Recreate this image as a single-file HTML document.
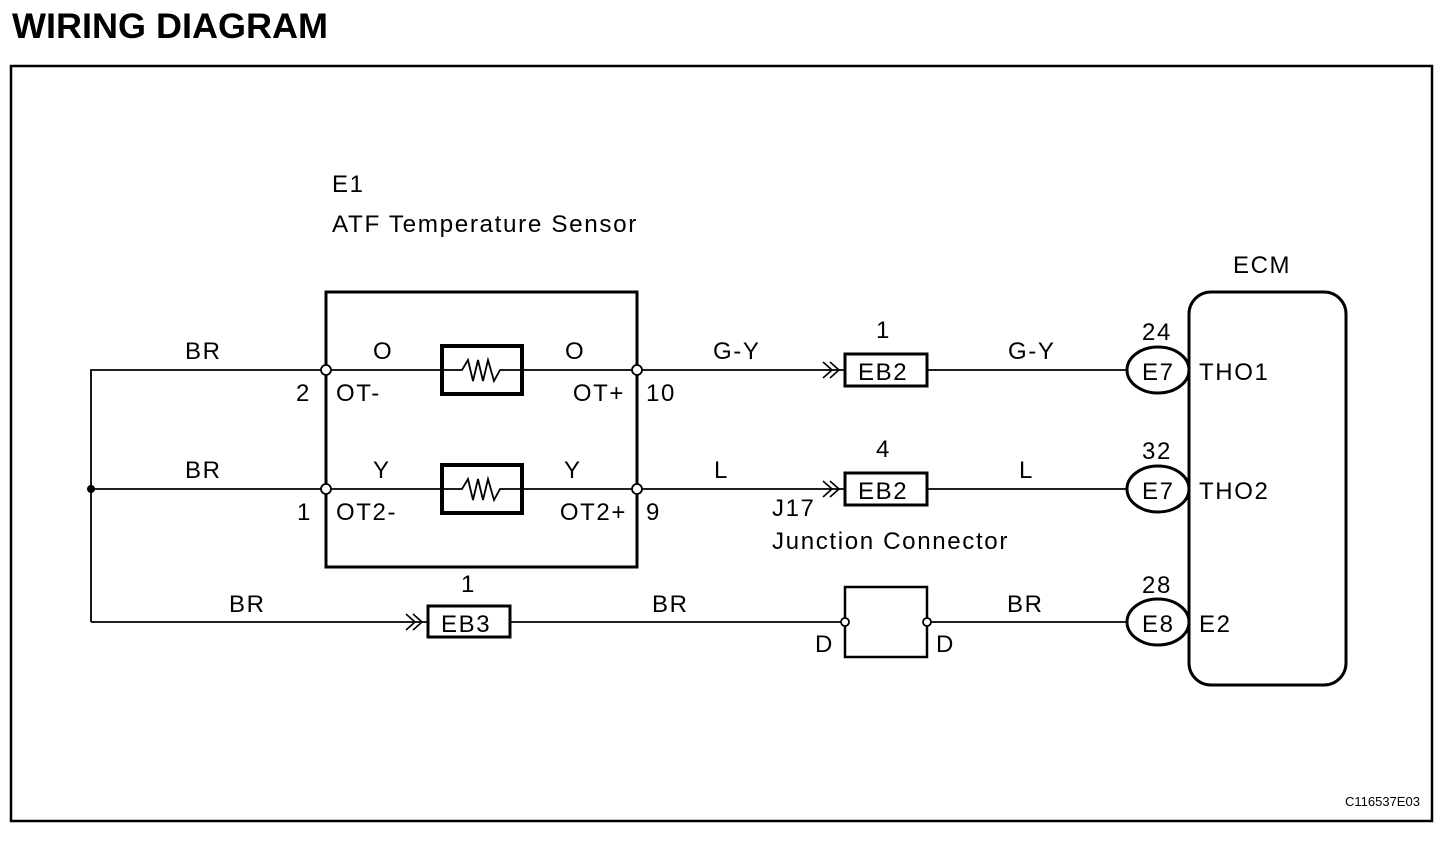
<!DOCTYPE html>
<html><head><meta charset="utf-8"><style>
html,body{margin:0;padding:0;background:#fff;}
svg{display:block;}
text{font-family:"Liberation Sans",Arial,sans-serif;fill:#000;}
.t{letter-spacing:1.6px;}
</style></head><body>
<svg width="1456" height="846" viewBox="0 0 1456 846" xmlns="http://www.w3.org/2000/svg">
<text x="12" y="38" font-size="35" font-weight="bold" textLength="316" lengthAdjust="spacingAndGlyphs">WIRING DIAGRAM</text>
<rect x="11" y="66" width="1421" height="755" fill="none" stroke="#000" stroke-width="2.5"/>
<g font-size="24" class="t">
<text x="332" y="192">E1</text>
<text x="332" y="232" textLength="306" lengthAdjust="spacingAndGlyphs">ATF Temperature Sensor</text>
<text x="1233" y="273">ECM</text>
</g>
<rect x="326" y="292" width="311" height="275" fill="none" stroke="#000" stroke-width="3"/>
<g stroke="#000" stroke-width="1.8" fill="none">
<polyline points="91,622 91,370 326,370"/>
<line x1="91" y1="489" x2="326" y2="489"/>
<line x1="326" y1="370" x2="637" y2="370"/>
<line x1="326" y1="489" x2="637" y2="489"/>
<line x1="637" y1="370" x2="845" y2="370"/>
<line x1="637" y1="489" x2="845" y2="489"/>
<line x1="927" y1="370" x2="1127" y2="370"/>
<line x1="927" y1="489" x2="1127" y2="489"/>
<line x1="91" y1="622" x2="428" y2="622"/>
<line x1="510" y1="622" x2="845" y2="622"/>
<line x1="927" y1="622" x2="1127" y2="622"/>
</g>
<g stroke="#000" stroke-width="1.6" fill="none">
<polyline points="823,362 832,370 823,378"/><polyline points="830,362 839,370 830,378"/>
<polyline points="823,481 832,489 823,497"/><polyline points="830,481 839,489 830,497"/>
<polyline points="406,614 415,622 406,630"/><polyline points="413,614 422,622 413,630"/>
</g>
<circle cx="91" cy="489" r="4" fill="#000"/>
<g stroke="#000" fill="#fff">
<rect x="442" y="346" width="80" height="48" stroke-width="4"/>
<rect x="442" y="465" width="80" height="48" stroke-width="4"/>
</g>
<g stroke="#000" stroke-width="1.8" fill="none">
<polyline points="442,370 462,370 468,360 473,381 478,360 483,381 488,360 494,381 500,370 522,370"/>
<polyline points="442,489 462,489 468,479 473,500 478,479 483,500 488,479 494,500 500,489 522,489"/>
</g>
<g stroke="#000" stroke-width="1.8" fill="#fff">
<circle cx="326" cy="370" r="5"/><circle cx="637" cy="370" r="5"/>
<circle cx="326" cy="489" r="5"/><circle cx="637" cy="489" r="5"/>
</g>
<g stroke="#000" stroke-width="3" fill="#fff">
<rect x="845" y="354" width="82" height="32"/>
<rect x="845" y="473" width="82" height="32"/>
<rect x="428" y="606" width="82" height="31"/>
</g>
<rect x="845" y="587" width="82" height="70" fill="none" stroke="#000" stroke-width="2.5"/>
<g stroke="#000" stroke-width="1.8" fill="#fff">
<circle cx="845" cy="622" r="4"/><circle cx="927" cy="622" r="4"/>
</g>
<rect x="1189" y="292" width="157" height="393" rx="22" fill="none" stroke="#000" stroke-width="3"/>
<g stroke="#000" stroke-width="3" fill="#fff">
<ellipse cx="1158" cy="370" rx="31" ry="23"/>
<ellipse cx="1158" cy="489" rx="31" ry="23"/>
<ellipse cx="1158" cy="622" rx="31" ry="23"/>
</g>
<line x1="1189" y1="330" x2="1189" y2="660" stroke="#000" stroke-width="3"/>
<g font-size="24" class="t">
<text x="185" y="359">BR</text>
<text x="185" y="478">BR</text>
<text x="229" y="612">BR</text>
<text x="373" y="359">O</text>
<text x="565" y="359">O</text>
<text x="373" y="478">Y</text>
<text x="564" y="478">Y</text>
<text x="296" y="401">2</text>
<text x="336" y="401">OT-</text>
<text x="625" y="401" text-anchor="end">OT+</text>
<text x="646" y="401">10</text>
<text x="297" y="520">1</text>
<text x="336" y="520">OT2-</text>
<text x="627" y="520" text-anchor="end">OT2+</text>
<text x="646" y="520">9</text>
<text x="713" y="359">G-Y</text>
<text x="714" y="478">L</text>
<text x="1008" y="359">G-Y</text>
<text x="1019" y="478">L</text>
<text x="652" y="612">BR</text>
<text x="1007" y="612">BR</text>
<text x="876" y="338">1</text>
<text x="876" y="457">4</text>
<text x="461" y="592">1</text>
<text x="858" y="380">EB2</text>
<text x="858" y="499">EB2</text>
<text x="441" y="632">EB3</text>
<text x="772" y="516">J17</text>
<text x="772" y="549" textLength="237" lengthAdjust="spacingAndGlyphs">Junction Connector</text>
<text x="815" y="652">D</text>
<text x="936" y="652">D</text>
<text x="1142" y="340">24</text>
<text x="1142" y="459">32</text>
<text x="1142" y="593">28</text>
<text x="1142" y="380">E7</text>
<text x="1142" y="499">E7</text>
<text x="1142" y="632">E8</text>
<text x="1199" y="380">THO1</text>
<text x="1199" y="499">THO2</text>
<text x="1199" y="632">E2</text>
</g>
<text x="1345" y="806" font-size="13">C116537E03</text>
</svg>
</body></html>
